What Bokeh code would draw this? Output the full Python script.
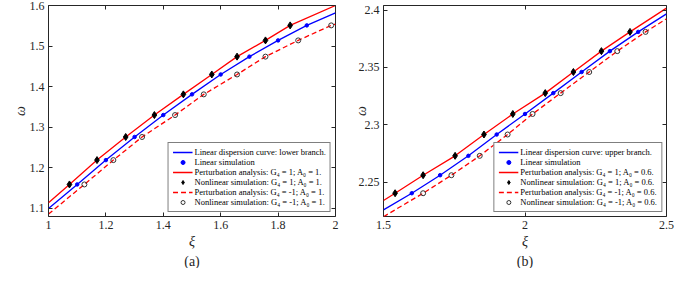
from bokeh.plotting import figure
from bokeh.layouts import row
from bokeh.models import Range1d, LinearAxis, FixedTicker, Legend, LegendItem, Title
from bokeh.embed import file_html
from bokeh.resources import INLINE

# ---------------- Panel (a) data ----------------
xi_a_lin_curve = [1.0, 1.1, 1.2, 1.3, 1.4, 1.5, 1.6, 1.7, 1.8, 1.9, 2.0]
w_a_lin_curve = [1.100, 1.159, 1.219, 1.276, 1.330, 1.381, 1.430, 1.474, 1.514, 1.551, 1.582]
xi_a_lin_sim = [1.1, 1.2, 1.3, 1.4, 1.5, 1.6, 1.7, 1.8, 1.9]
w_a_lin_sim = [1.159, 1.219, 1.276, 1.330, 1.381, 1.430, 1.474, 1.514, 1.551]
xi_a_pert_pos = [1.0, 1.073, 1.169, 1.269, 1.369, 1.470, 1.569, 1.657, 1.756, 1.842, 2.0]
w_a_pert_pos = [1.114, 1.159, 1.219, 1.276, 1.330, 1.381, 1.430, 1.474, 1.514, 1.551, 1.600]
xi_a_nl_pos = [1.073, 1.169, 1.269, 1.369, 1.470, 1.569, 1.657, 1.756, 1.842]
w_a_nl_pos = [1.159, 1.219, 1.276, 1.330, 1.381, 1.430, 1.474, 1.514, 1.551]
xi_a_pert_neg = [1.0, 1.125, 1.226, 1.326, 1.441, 1.541, 1.657, 1.756, 1.870, 1.985, 2.0]
w_a_pert_neg = [1.086, 1.159, 1.219, 1.276, 1.330, 1.381, 1.430, 1.474, 1.514, 1.551, 1.554]
xi_a_nl_neg = [1.125, 1.226, 1.326, 1.441, 1.541, 1.657, 1.756, 1.870, 1.985]
w_a_nl_neg = [1.159, 1.219, 1.276, 1.330, 1.381, 1.430, 1.474, 1.514, 1.551]
xticks_a = [1, 1.2, 1.4, 1.6, 1.8, 2]
xtick_labels_a = ["1", "1.2", "1.4", "1.6", "1.8", "2"]
yticks_a = [1.1, 1.2, 1.3, 1.4, 1.5, 1.6]
ytick_labels_a = ["1.1", "1.2", "1.3", "1.4", "1.5", "1.6"]
legend_a = [
    "Linear dispersion curve: lower branch.",
    "Linear simulation",
    "Perturbation analysis: G\u2084 = 1; A\u2080 = 1.",
    "Nonlinear simulation: G\u2084 = 1; A\u2080 = 1.",
    "Perturbation analysis: G\u2084 = -1; A\u2080 = 1.",
    "Nonlinear simulation: G\u2084 = -1; A\u2080 = 1.",
]

# ---------------- Panel (b) data ----------------
xi_b_lin_curve = [1.5, 1.6, 1.7, 1.8, 1.9, 2.0, 2.1, 2.2, 2.3, 2.4, 2.5]
w_b_lin_curve = [2.2258, 2.2403, 2.2560, 2.2729, 2.2915, 2.3094, 2.3276, 2.3460, 2.3642, 2.3810, 2.3967]
xi_b_lin_sim = [1.6, 1.7, 1.8, 1.9, 2.0, 2.1, 2.2, 2.3, 2.4]
w_b_lin_sim = [2.2403, 2.2560, 2.2729, 2.2915, 2.3094, 2.3276, 2.3460, 2.3642, 2.3810]
xi_b_pert_pos = [1.5, 1.541, 1.640, 1.753, 1.855, 1.957, 2.0715, 2.171, 2.270, 2.371, 2.5]
w_b_pert_pos = [2.2340, 2.2403, 2.2560, 2.2729, 2.2915, 2.3094, 2.3276, 2.3460, 2.3642, 2.3810, 2.4017]
xi_b_nl_pos = [1.541, 1.640, 1.753, 1.855, 1.957, 2.0715, 2.171, 2.270, 2.371]
w_b_nl_pos = [2.2403, 2.2560, 2.2729, 2.2915, 2.3094, 2.3276, 2.3460, 2.3642, 2.3810]
xi_b_pert_neg = [1.5, 1.640, 1.740, 1.840, 1.9385, 2.0267, 2.126, 2.227, 2.326, 2.426, 2.5]
w_b_pert_neg = [2.2198, 2.2403, 2.2560, 2.2729, 2.2915, 2.3094, 2.3276, 2.3460, 2.3642, 2.3810, 2.3924]
xi_b_nl_neg = [1.640, 1.740, 1.840, 1.9385, 2.0267, 2.126, 2.227, 2.326, 2.426]
w_b_nl_neg = [2.2403, 2.2560, 2.2729, 2.2915, 2.3094, 2.3276, 2.3460, 2.3642, 2.3810]
xticks_b = [1.5, 2, 2.5]
xtick_labels_b = ["1.5", "2", "2.5"]
yticks_b = [2.25, 2.3, 2.35, 2.4]
ytick_labels_b = ["2.25", "2.3", "2.35", "2.4"]
legend_b = [
    "Linear dispersion curve: upper branch.",
    "Linear simulation",
    "Perturbation analysis: G\u2084 = 1; A\u2080 = 0.6.",
    "Nonlinear simulation: G\u2084 = 1; A\u2080 = 0.6.",
    "Perturbation analysis: G\u2084 = -1; A\u2080 = 0.6.",
    "Nonlinear simulation: G\u2084 = -1; A\u2080 = 0.6.",
]

FONT = "Liberation Serif"
AX = "#262626"
H = 268
BT, BB = 5, 20


def style_axis(ax, ticks, labels, show_labels):
    ax.ticker = FixedTicker(ticks=ticks)
    ax.axis_line_color = None
    ax.major_tick_line_color = AX
    ax.minor_tick_line_color = None
    ax.major_tick_in = 4
    ax.major_tick_out = 0
    ax.major_label_text_font = FONT
    ax.major_label_text_color = AX
    ax.major_label_text_font_size = "12px"
    if show_labels:
        ax.major_label_overrides = dict(zip(ticks, labels))
        ax.major_label_standoff = 4
    else:
        ax.major_label_overrides = {t: "" for t in ticks}
        ax.major_label_standoff = 0


def panel(W, BL, BR, xr, yr, xticks, xlabels, yticks, ylabels, series, legend_labels, tag, ystandoff):
    p = figure(width=W, height=H, x_range=Range1d(*xr), y_range=Range1d(*yr),
               output_backend="svg", toolbar_location=None,
               min_border_left=BL, min_border_right=BR, min_border_top=BT, min_border_bottom=BB)
    p.grid.visible = False
    p.outline_line_color = AX
    p.outline_line_width = 1
    style_axis(p.xaxis[0], xticks, xlabels, True)
    style_axis(p.yaxis[0], yticks, ylabels, True)
    p.xaxis[0].axis_label = "\u03be"
    p.yaxis[0].axis_label = "\u03c9"
    for ax in (p.xaxis[0], p.yaxis[0]):
        ax.axis_label_text_font = FONT
        ax.axis_label_text_font_style = "italic"
        ax.axis_label_text_font_size = "14px"
        ax.axis_label_text_color = AX
    p.xaxis[0].axis_label_standoff = 2
    p.yaxis[0].axis_label_standoff = ystandoff
    top = LinearAxis()
    style_axis(top, xticks, xlabels, False)
    p.add_layout(top, "above")
    right = LinearAxis()
    style_axis(right, yticks, ylabels, False)
    p.add_layout(right, "right")
    p.add_layout(Title(text=tag, align="center", text_font=FONT, text_font_size="14px",
                       text_font_style="normal", text_color=AX, standoff=0, offset=0), "below")

    (xl, wl), (xs, ws), (xpp, wpp), (xnp, wnp), (xpn, wpn), (xnn, wnn) = series
    r1 = p.line(xl, wl, line_color="#0000FF", line_width=1.3)
    r2 = p.scatter(xs, ws, marker="circle", size=3.5, fill_color="#0000FF", line_color="#0000FF")
    r3 = p.line(xpp, wpp, line_color="#FF0000", line_width=1.3)
    r4 = p.scatter(xnp, wnp, marker="diamond", size=7, fill_color="black", line_color="black")
    r5 = p.line(xpn, wpn, line_color="#FF0000", line_width=1.3, line_dash="5 3")
    r6 = p.scatter(xnn, wnn, marker="circle", size=5, fill_color=None, line_color="#333333", line_width=1)

    items = [LegendItem(label=t, renderers=[r]) for t, r in zip(legend_labels, [r1, r2, r3, r4, r5, r6])]
    leg = Legend(items=items, location="bottom_right", margin=4, padding=4, spacing=0,
                 label_standoff=2, glyph_width=20, glyph_height=10, label_height=10,
                 label_text_font=FONT, label_text_font_size="8.5px", label_text_color="black",
                 border_line_color="black", border_line_width=1, background_fill_alpha=1)
    p.add_layout(leg)
    return p


pa = panel(350, 48, 15, (1.0, 2.0), (1.08, 1.6), xticks_a, xtick_labels_a, yticks_a, ytick_labels_a,
           [(xi_a_lin_curve, w_a_lin_curve), (xi_a_lin_sim, w_a_lin_sim),
            (xi_a_pert_pos, w_a_pert_pos), (xi_a_nl_pos, w_a_nl_pos),
            (xi_a_pert_neg, w_a_pert_neg), (xi_a_nl_neg, w_a_nl_neg)],
           legend_a, "(a)", -1)
pb = panel(334, 28, 18, (1.5, 2.5), (2.22, 2.404), xticks_b, xtick_labels_b, yticks_b, ytick_labels_b,
           [(xi_b_lin_curve, w_b_lin_curve), (xi_b_lin_sim, w_b_lin_sim),
            (xi_b_pert_pos, w_b_pert_pos), (xi_b_nl_pos, w_b_nl_pos),
            (xi_b_pert_neg, w_b_pert_neg), (xi_b_nl_neg, w_b_nl_neg)],
           legend_b, "(b)", -13)

layout = row(pa, pb)
open("out.html", "w").write(file_html(layout, INLINE))
